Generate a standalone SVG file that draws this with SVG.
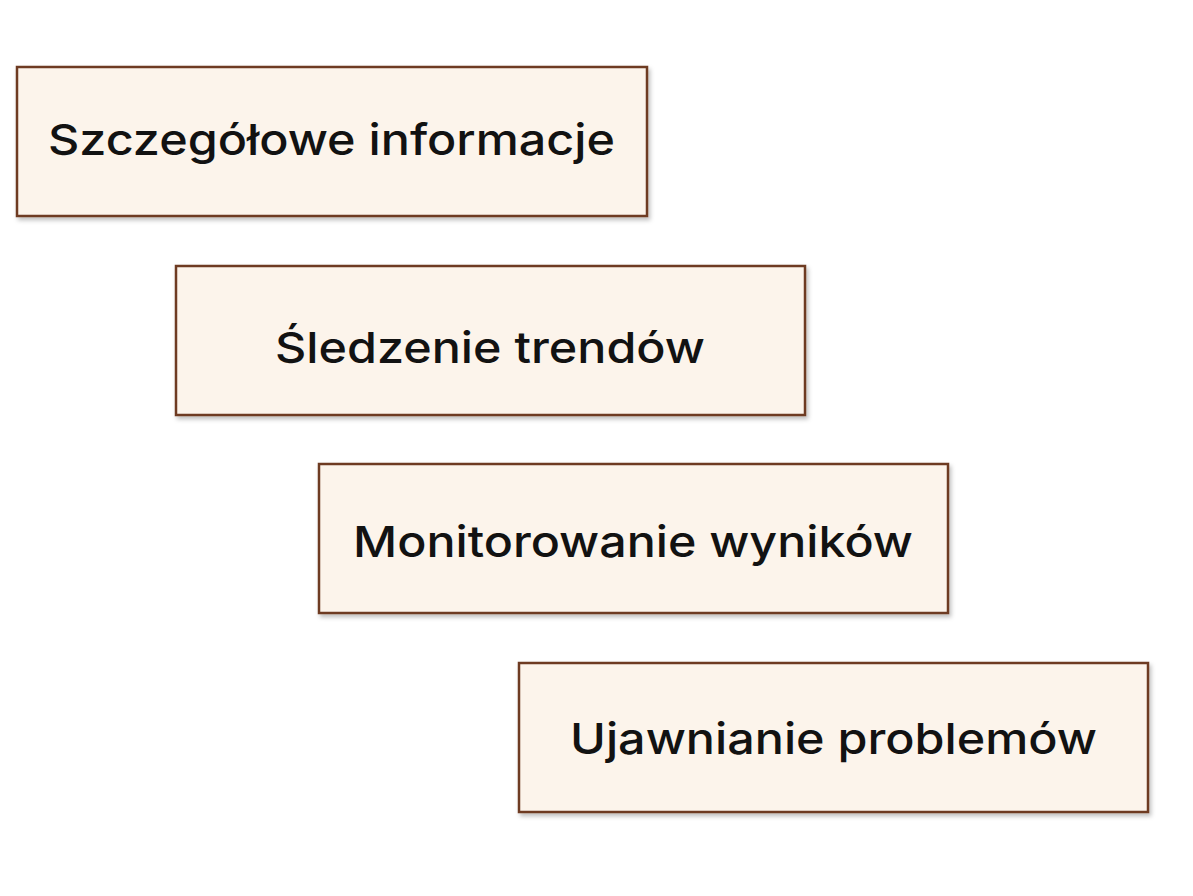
<svg xmlns="http://www.w3.org/2000/svg" width="1193" height="896" viewBox="0 0 1193 896">
  <defs>
    <filter id="sh" x="-5%" y="-10%" width="110%" height="125%">
      <feDropShadow dx="2" dy="3" stdDeviation="2" flood-color="#000" flood-opacity="0.25"/>
    </filter>
    <style>
      .box { fill: #fcf4eb; stroke: #6e3b22; stroke-width: 2.5; filter: url(#sh); }
      .lbl { font-family: Inter, "Noto Sans", "Liberation Sans", sans-serif; font-weight: 500; font-size: 43px; fill: #121212; text-anchor: middle; }
    </style>
  </defs>
  <rect width="1193" height="896" fill="#ffffff"/>
  <g id="node1">
    <rect class="box" x="17" y="67" width="630" height="149"/>
    <text class="lbl" x="331.5" y="155" textLength="567" lengthAdjust="spacingAndGlyphs">Szczegółowe informacje</text>
  </g>
  <g id="node2">
    <rect class="box" x="176" y="266" width="629" height="149"/>
    <text class="lbl" x="490" y="363" textLength="430" lengthAdjust="spacingAndGlyphs">Śledzenie trendów</text>
  </g>
  <g id="node3">
    <rect class="box" x="319" y="464" width="629" height="149"/>
    <text class="lbl" x="633" y="557" textLength="560" lengthAdjust="spacingAndGlyphs">Monitorowanie wyników</text>
  </g>
  <g id="node4">
    <rect class="box" x="519" y="663" width="629" height="149"/>
    <text class="lbl" x="833.5" y="754" textLength="527" lengthAdjust="spacingAndGlyphs">Ujawnianie problemów</text>
  </g>
  <g id="connectors"></g>
</svg>
